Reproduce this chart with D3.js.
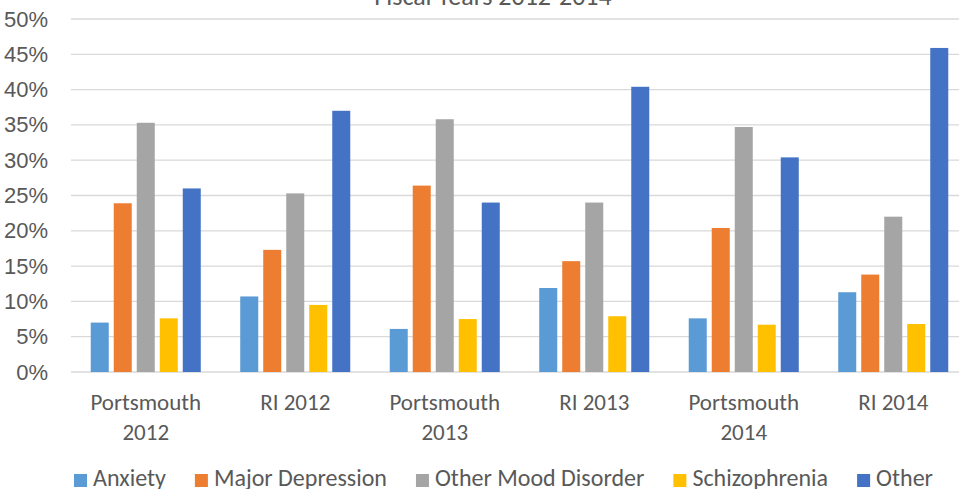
<!DOCTYPE html>
<html>
<head>
<meta charset="utf-8">
<script src="https://cdn.jsdelivr.net/npm/d3@7"></script>
<style>
  html, body { margin: 0; padding: 0; background: #fff; overflow: hidden; }
  svg { display: block; font-family: Calibri, Carlito, Lato, sans-serif; }
</style>
</head>
<body>
<svg id="chart" width="959" height="489"></svg>
<script>
// data
const groups = ["Portsmouth 2012", "RI 2012", "Portsmouth 2013", "RI 2013", "Portsmouth 2014", "RI 2014"];
const groupLines = [["Portsmouth", "2012"], ["RI 2012"], ["Portsmouth", "2013"], ["RI 2013"], ["Portsmouth", "2014"], ["RI 2014"]];
const seriesNames = ["Anxiety", "Major Depression", "Other Mood Disorder", "Schizophrenia", "Other"];
const anxiety = [0.070, 0.107, 0.061, 0.119, 0.076, 0.113];
const majorDepression = [0.239, 0.173, 0.264, 0.157, 0.204, 0.138];
const otherMood = [0.353, 0.253, 0.358, 0.240, 0.347, 0.220];
const schizophrenia = [0.076, 0.095, 0.075, 0.079, 0.067, 0.068];
const other = [0.260, 0.370, 0.240, 0.404, 0.304, 0.459];
const yTicks = [0, 0.05, 0.10, 0.15, 0.20, 0.25, 0.30, 0.35, 0.40, 0.45, 0.50];
const colors = ["#5B9BD5", "#ED7D31", "#A5A5A5", "#FFC000", "#4472C4"];
const title = "Fiscal Years 2012-2014";

const seriesValues = [anxiety, majorDepression, otherMood, schizophrenia, other];

const svg = d3.select("#chart");
const textColor = "#595959";
const plot = { left: 71, right: 968, top: 19, bottom: 372 };

const x0 = d3.scaleBand().domain(groups)
  .range([plot.left, plot.right]).paddingInner(0.264).paddingOuter(0.132);
const x1 = d3.scaleBand().domain(seriesNames)
  .range([0, x0.bandwidth()]).paddingInner(0.217).paddingOuter(0);
const y = d3.scaleLinear().domain([0, 0.5]).range([plot.bottom, plot.top]);
const color = d3.scaleOrdinal().domain(seriesNames).range(colors);

// title (cut off at top like the reference)
svg.append("text")
  .attr("x", 493).attr("y", 5)
  .attr("text-anchor", "middle")
  .attr("fill", textColor)
  .style("font-size", "26px")
  .text(title);

// gridlines
svg.append("g")
  .selectAll("line")
  .data(yTicks)
  .join("line")
  .attr("x1", plot.left).attr("x2", plot.right)
  .attr("y1", d => y(d)).attr("y2", d => y(d))
  .attr("stroke", "#d9d9d9")
  .attr("stroke-width", d => d === 0 ? 1.5 : 1.3);

// y axis labels
const yAxis = svg.append("g")
  .attr("transform", "translate(" + (plot.left - 23) + ",0)")
  .call(d3.axisLeft(y).tickValues(yTicks).tickFormat(d3.format(".0%")).tickSize(0).tickPadding(0));
yAxis.select(".domain").remove();
yAxis.selectAll("text")
  .attr("fill", textColor)
  .attr("font-family", null)
  .style("font-size", "22px");

// bars
const rows = groups.map((g, i) => ({ group: g, values: seriesNames.map((s, j) => ({ key: s, value: seriesValues[j][i] })) }));

svg.append("g")
  .selectAll("g")
  .data(rows)
  .join("g")
  .attr("transform", d => "translate(" + x0(d.group) + ",0)")
  .selectAll("rect")
  .data(d => d.values)
  .join("rect")
  .attr("x", d => x1(d.key))
  .attr("y", d => y(d.value))
  .attr("width", x1.bandwidth())
  .attr("height", d => y(0) - y(d.value))
  .attr("fill", d => color(d.key));

// category labels
const cat = svg.append("g")
  .selectAll("text")
  .data(groups)
  .join("text")
  .attr("x", d => x0(d) + x0.bandwidth() / 2)
  .attr("y", plot.bottom + 38)
  .attr("text-anchor", "middle")
  .attr("fill", textColor)
  .style("font-size", "23px");
cat.selectAll("tspan")
  .data((d, i) => groupLines[i])
  .join("tspan")
  .attr("x", function () { return d3.select(this.parentNode).attr("x"); })
  .attr("dy", (d, i) => i === 0 ? 0 : 30)
  .text(d => d);

// legend
const legend = svg.append("g");
let lx = 74;
seriesNames.forEach(name => {
  const item = legend.append("g").attr("transform", "translate(" + lx + ",0)");
  item.append("rect")
    .attr("x", 0).attr("y", 474)
    .attr("width", 13).attr("height", 13)
    .attr("fill", color(name));
  const t = item.append("text")
    .attr("x", 19).attr("y", 486)
    .attr("fill", textColor)
    .style("font-size", "24px")
    .text(name);
  lx += 19 + t.node().getComputedTextLength() + 29;
});
</script>
</body>
</html>
